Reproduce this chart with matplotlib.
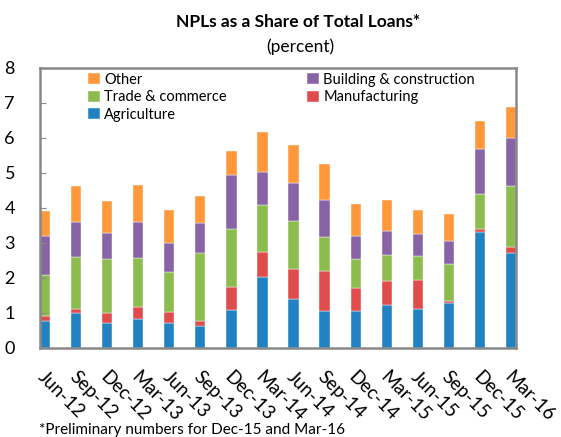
import numpy as np
import matplotlib.pyplot as plt
import matplotlib.transforms as mtransforms

plt.rcParams['font.family'] = ['Lato', 'DejaVu Sans']

quarters = ['Jun-12', 'Sep-12', 'Dec-12', 'Mar-13', 'Jun-13', 'Sep-13', 'Dec-13', 'Mar-14',
            'Jun-14', 'Sep-14', 'Dec-14', 'Mar-15', 'Jun-15', 'Sep-15', 'Dec-15', 'Mar-16']

agriculture = [0.78, 0.99, 0.71, 0.82, 0.71, 0.63, 1.08, 2.03, 1.40, 1.05, 1.07, 1.24, 1.12, 1.28, 3.32, 2.70]
manufacturing = [0.14, 0.12, 0.29, 0.35, 0.32, 0.15, 0.66, 0.72, 0.86, 1.15, 0.63, 0.66, 0.81, 0.07, 0.08, 0.19]
trade = [1.16, 1.48, 1.53, 1.39, 1.14, 1.94, 1.67, 1.34, 1.36, 0.96, 0.84, 0.75, 0.70, 1.04, 1.00, 1.73]
building = [1.11, 1.02, 0.76, 1.05, 0.82, 0.86, 1.53, 0.95, 1.10, 1.08, 0.65, 0.69, 0.63, 0.66, 1.28, 1.39]
other = [0.71, 1.03, 0.92, 1.04, 0.96, 0.77, 0.69, 1.12, 1.07, 1.02, 0.92, 0.89, 0.69, 0.78, 0.81, 0.87]

series = [
    ('Agriculture', agriculture, '#2181c2'),
    ('Manufacturing', manufacturing, '#df4c4b'),
    ('Trade & commerce', trade, '#8cbb4e'),
    ('Building & construction', building, '#8863a5'),
    ('Other', other, '#fe983b'),
]

fig = plt.figure(figsize=(5.61, 4.37), dpi=100)
ax = fig.add_axes([0.0713, 0.2037, 0.8485, 0.6407])

x = np.arange(len(quarters))
w = 0.33
bottom = np.zeros(len(quarters))
bars = {}
for name, vals, col in series:
    bars[name] = ax.bar(x, vals, w, bottom=bottom, color=col, edgecolor='white', linewidth=0.3, label=name)
    bottom += np.array(vals)

ax.set_xlim(-w / 2, len(quarters) - 1 + w / 2)
ax.set_ylim(0, 8)
ax.set_yticks(range(9))
ax.tick_params(axis='y', direction='in', length=4, color='#888888', labelsize=13, pad=18)
ax.tick_params(axis='x', length=0)
ax.set_xticks(x)
ax.set_xticklabels(quarters, rotation=-45, ha='left', va='center', rotation_mode='anchor', fontsize=13.5)
shift = mtransforms.ScaledTranslation(-4 / 100, 0, fig.dpi_scale_trans)
for lab in ax.get_xticklabels():
    lab.set_y(-0.075)
    lab.set_transform(lab.get_transform() + shift)
for s in ax.spines.values():
    s.set_color('#888888')
    s.set_linewidth(1.8)

order = ['Other', 'Trade & commerce', 'Agriculture', 'Building & construction', 'Manufacturing']
ax.legend([bars[n] for n in order], order, ncol=2, frameon=False, loc='upper left',
          bbox_to_anchor=(0.08, 1.02), fontsize=10.5, handlelength=0.8, handleheight=0.8,
          handletextpad=0.3, labelspacing=0.25, columnspacing=5.5, borderaxespad=0.3)

fig.text(0.532, 0.95, 'NPLs as a Share of Total Loans*', ha='center', va='center', fontsize=12.5, fontweight='bold')
fig.text(0.535, 0.893, '(percent)', ha='center', va='center', fontsize=12.5)
fig.text(0.07, 0.001, '*Preliminary numbers for Dec-15 and Mar-16', ha='left', va='bottom', fontsize=11)

fig.savefig('out.png', dpi=100)
